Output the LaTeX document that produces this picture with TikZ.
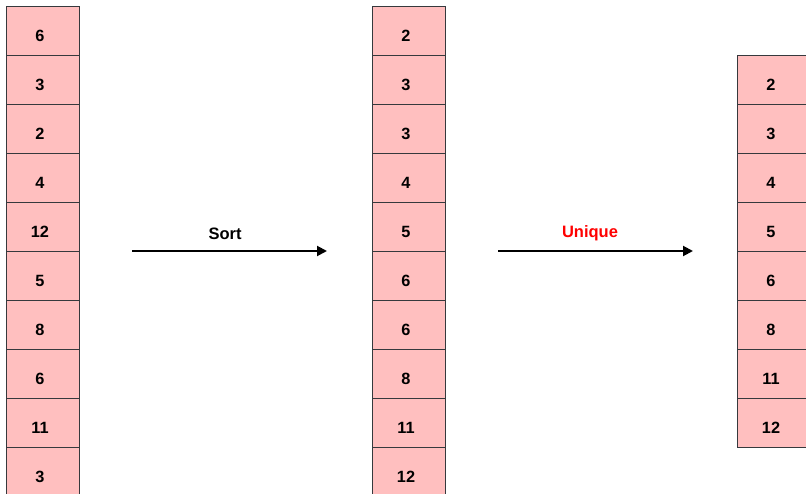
\documentclass[tikz,border=0pt]{standalone}
\usepackage{fontspec}
\setmainfont{Liberation Sans}
\usetikzlibrary{arrows.meta}
\definecolor{cellfill}{HTML}{FFBFBF}
\definecolor{celldraw}{HTML}{36393D}
\definecolor{uniq}{HTML}{FF0000}
\begin{document}
\begin{tikzpicture}[x=1pt,y=-1pt,
  cell/.style={draw=celldraw,fill=cellfill,line width=1pt,minimum width=73pt,minimum height=49pt,inner sep=0pt,text height=20.5pt,text depth=0pt,font=\fontsize{16.3}{19}\selectfont\bfseries,anchor=north west},
  conn/.style={-{Triangle[length=10pt,width=10pt]},line width=2pt},
  lbl/.style={font=\fontsize{16.5}{19}\selectfont\bfseries}]
\useasboundingbox (0,0) rectangle (806,494);
\clip (0,0) rectangle (806,494);
\foreach \v [count=\i from 0] in {6,3,2,4,12,5,8,6,11,3}
  \node[cell] (a\i) at (6,6+49*\i) {\v\kern6pt};
\foreach \v [count=\i from 0] in {2,3,3,4,5,6,6,8,11,12}
  \node[cell] (b\i) at (372,6+49*\i) {\v\kern6pt};
\foreach \v [count=\i from 0] in {2,3,4,5,6,8,11,12}
  \node[cell] (c\i) at (737,55+49*\i) {\v\kern6pt};
\coordinate (s1) at (132,251);
\coordinate (s2) at (327,251);
\coordinate (u1) at (498,251);
\coordinate (u2) at (693,251);
\draw[conn] (s1) -- (s2);
\draw[conn] (u1) -- (u2);
\node[lbl] (ls) at (225,233.5) {Sort};
\node[lbl,text=uniq] (lu) at (590,233.5) {Unique};
\end{tikzpicture}
\end{document}
